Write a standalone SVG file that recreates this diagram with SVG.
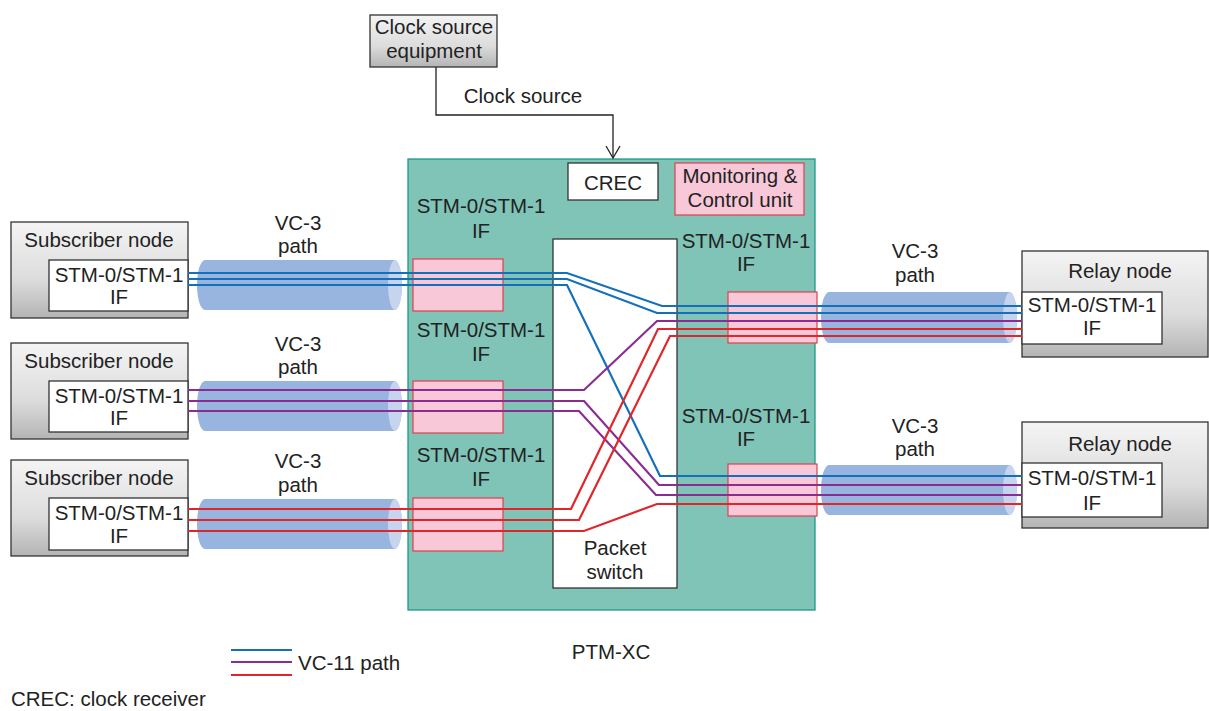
<svg xmlns="http://www.w3.org/2000/svg" width="1209" height="711" viewBox="0 0 1209 711">
<defs>
<linearGradient id="gray" x1="0" y1="0" x2="0" y2="1">
<stop offset="0" stop-color="#f4f4f4"/>
<stop offset="0.6" stop-color="#dcdcdc"/>
<stop offset="1" stop-color="#b4b4b4"/>
</linearGradient>
<marker id="arr" markerWidth="16" markerHeight="16" refX="14" refY="8" orient="auto" markerUnits="userSpaceOnUse" viewBox="0 0 16 16">
<path d="M2 1 L14 8 L2 15" fill="none" stroke="#222" stroke-width="1.3"/>
</marker>
</defs>
<style>
text{font-family:"Liberation Sans",Arial,sans-serif;font-size:20.5px;fill:#222;text-anchor:middle}
.outer{fill:url(#gray);stroke:#333;stroke-width:1.3}
.inner{fill:#fff;stroke:#333;stroke-width:1.3}
.pink{fill:#f8c8d8;stroke:#e0404c;stroke-width:1.2}
.tube{fill:#97b5de}
.cap{fill:#c6d4ee}
.b{fill:none;stroke:#1470b8;stroke-width:2.2}
.p{fill:none;stroke:#8a2c92;stroke-width:2.2}
.r{fill:none;stroke:#e0262a;stroke-width:2.2}
</style>
<rect width="1209" height="711" fill="#fff"/>

<g id="ptm-xc">
<rect x="408" y="159" width="407" height="451" fill="#80c4b8" stroke="#1a9a88" stroke-width="1.3"/>
<text x="611" y="659">PTM-XC</text>
</g>
<g id="crec">
<rect x="568" y="163" width="90" height="37" fill="#fff" stroke="#333" stroke-width="1.3"/>
<text x="613" y="190">CREC</text>
</g>
<g id="monitoring">
<rect x="675" y="163" width="129" height="52" class="pink"/>
<text x="740" y="183">Monitoring &amp;</text>
<text x="740" y="207">Control unit</text>
</g>
<g id="packet-switch">
<rect x="553" y="239" width="124" height="349" fill="#fff" stroke="#333" stroke-width="1.3"/>
<text x="615" y="555">Packet</text>
<text x="615" y="579">switch</text>
</g>
<g id="if-left-1">
<rect x="413" y="259" width="90" height="52" class="pink"/>
<text x="481" y="213">STM-0/STM-1</text>
<text x="481" y="238">IF</text>
</g>
<g id="if-left-2">
<rect x="413" y="381" width="90" height="52" class="pink"/>
<text x="481" y="337">STM-0/STM-1</text>
<text x="481" y="361">IF</text>
</g>
<g id="if-left-3">
<rect x="413" y="498" width="90" height="53" class="pink"/>
<text x="481" y="462">STM-0/STM-1</text>
<text x="481" y="486">IF</text>
</g>
<g id="if-right-1">
<rect x="728" y="292" width="89" height="51" class="pink"/>
<text x="746" y="248">STM-0/STM-1</text>
<text x="746" y="271">IF</text>
</g>
<g id="if-right-2">
<rect x="728" y="464" width="89" height="52" class="pink"/>
<text x="746" y="423">STM-0/STM-1</text>
<text x="746" y="446">IF</text>
</g>

<g id="clock-source-equipment">
<rect x="370" y="15" width="127" height="52" class="outer"/>
<text x="434" y="34">Clock source</text>
<text x="434" y="58">equipment</text>
</g>

<g id="subscriber-1">
<rect x="11" y="222" width="177" height="96" class="outer"/>
<text x="99" y="247">Subscriber node</text>
<rect x="49" y="260" width="139" height="51" class="inner"/>
<text x="119" y="282">STM-0/STM-1</text>
<text x="119" y="304">IF</text>
</g>
<g id="subscriber-2">
<rect x="11" y="343" width="177" height="96" class="outer"/>
<text x="99" y="368">Subscriber node</text>
<rect x="49" y="381" width="139" height="51" class="inner"/>
<text x="119" y="403">STM-0/STM-1</text>
<text x="119" y="425">IF</text>
</g>
<g id="subscriber-3">
<rect x="11" y="460" width="177" height="96" class="outer"/>
<text x="99" y="485">Subscriber node</text>
<rect x="49" y="498" width="139" height="52" class="inner"/>
<text x="119" y="520">STM-0/STM-1</text>
<text x="119" y="543">IF</text>
</g>
<g id="relay-1">
<rect x="1022" y="251" width="186" height="106" class="outer"/>
<text x="1120" y="278">Relay node</text>
<rect x="1022" y="292" width="140" height="52" class="inner"/>
<text x="1092" y="312">STM-0/STM-1</text>
<text x="1092" y="335">IF</text>
</g>
<g id="relay-2">
<rect x="1022" y="422" width="186" height="106" class="outer"/>
<text x="1120" y="451">Relay node</text>
<rect x="1022" y="463" width="140" height="54" class="inner"/>
<text x="1092" y="485">STM-0/STM-1</text>
<text x="1092" y="510">IF</text>
</g>

<g id="vc3-left-1">
<rect x="197" y="260" width="205" height="50" rx="8" ry="25" class="tube"/>
<ellipse cx="395" cy="285" rx="7" ry="25" class="cap"/>
<text x="298" y="230">VC-3</text>
<text x="298" y="253">path</text>
</g>
<g id="vc3-left-2">
<rect x="197" y="381" width="205" height="50" rx="8" ry="25" class="tube"/>
<ellipse cx="395" cy="406" rx="7" ry="25" class="cap"/>
<text x="298" y="351">VC-3</text>
<text x="298" y="374">path</text>
</g>
<g id="vc3-left-3">
<rect x="197" y="499" width="205" height="50" rx="8" ry="25" class="tube"/>
<ellipse cx="395" cy="524" rx="7" ry="25" class="cap"/>
<text x="298" y="468">VC-3</text>
<text x="298" y="492">path</text>
</g>
<g id="vc3-right-1">
<rect x="821" y="292" width="196" height="51" rx="8" ry="25" class="tube"/>
<ellipse cx="1010" cy="317.5" rx="7" ry="25.5" class="cap"/>
<text x="915" y="258">VC-3</text>
<text x="915" y="282">path</text>
</g>
<g id="vc3-right-2">
<rect x="821" y="465" width="196" height="50" rx="8" ry="25" class="tube"/>
<ellipse cx="1010" cy="490" rx="7" ry="25" class="cap"/>
<text x="915" y="433">VC-3</text>
<text x="915" y="456">path</text>
</g>

<g id="connectors">
<path d="M436 67 V115 H613 V158" fill="none" stroke="#222" stroke-width="1.3" marker-end="url(#arr)"/>
<text x="523" y="103">Clock source</text>
<path class="b" d="M188 273 H567 L662 306 H1022"/>
<path class="b" d="M188 279 H567 L657 313 H1022"/>
<path class="b" d="M188 285 H567 L660 476 H1022"/>
<path class="p" d="M188 390 H584 L657 321 H1022"/>
<path class="p" d="M188 401 H584 L659 485 H1022"/>
<path class="p" d="M188 411 H579 L656 495 H1022"/>
<path class="r" d="M188 509 H571 L658 329 H1022"/>
<path class="r" d="M188 520 H579 L670 336 H1022"/>
<path class="r" d="M188 531 H584 L657 504 H1022"/>
</g>

<g id="legend">
<line x1="231" y1="650" x2="292" y2="650" class="b"/>
<line x1="231" y1="662" x2="292" y2="662" class="p"/>
<line x1="231" y1="675" x2="292" y2="675" class="r"/>
<text x="298" y="670" style="text-anchor:start">VC-11 path</text>
<text x="11" y="706" style="text-anchor:start">CREC: clock receiver</text>
</g>
</svg>
